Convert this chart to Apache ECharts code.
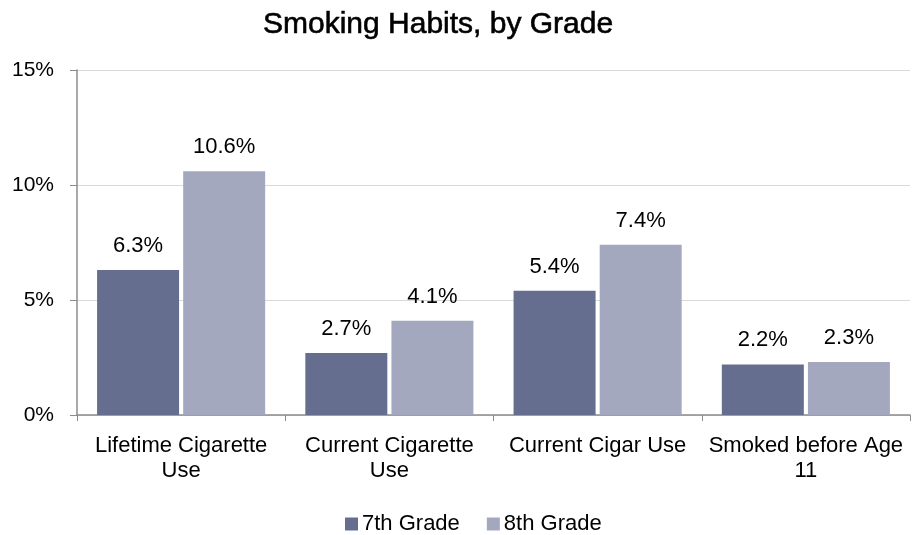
<!DOCTYPE html>
<html>
<head>
<meta charset="utf-8">
<script src="https://cdn.jsdelivr.net/npm/echarts@6/dist/echarts.min.js"></script>
<style>
  html, body { margin: 0; padding: 0; background: #fff; }
  #chart { width: 914px; height: 535px; }
</style>
</head>
<body>
<div id="chart"></div>
<script>
// Survey categories and the share of students in each grade
const categories = ['Lifetime Cigarette\nUse', 'Current Cigarette\nUse', 'Current Cigar Use', 'Smoked before Age\n11'];
const grade7 = [6.3, 2.7, 5.4, 2.2];
const grade8 = [10.6, 4.1, 7.4, 2.3];
const seriesNames = ['7th Grade', '8th Grade'];

const font = '"Liberation Sans", Arial, sans-serif';
const chart = echarts.init(document.getElementById('chart'));

const labelStyle = {
  show: true,
  position: 'top',
  distance: 13,
  color: '#000',
  fontSize: 22,
  fontFamily: font,
  formatter: p => p.value.toFixed(1) + '%'
};

chart.setOption({
  animation: false,
  title: {
    text: 'Smoking Habits, by Grade',
    left: 258,
    top: 5,
    textStyle: {
      fontFamily: font, fontSize: 30, fontWeight: 'normal', color: '#000',
      // a thin outline gives the heading a medium weight
      textBorderColor: '#000', textBorderWidth: 0.6
    }
  },
  legend: {
    top: 508,
    left: 340,
    itemWidth: 13,
    itemHeight: 13,
    itemGap: 27,
    icon: 'rect',
    textStyle: { fontFamily: font, fontSize: 22, color: '#000', padding: [0, 0, 0, -1] },
    data: seriesNames
  },
  grid: { left: 77, right: 4, top: 70, bottom: 120, containLabel: false },
  xAxis: {
    type: 'category',
    data: categories,
    axisLine: { lineStyle: { color: '#8c8c8c', width: 1.5 } },
    axisTick: { show: true, length: 6, lineStyle: { color: '#8c8c8c' } },
    axisLabel: { fontFamily: font, fontSize: 22, color: '#000', margin: 18, lineHeight: 25, interval: 0 }
  },
  yAxis: {
    type: 'value',
    min: 0,
    max: 15,
    interval: 5,
    axisLine: { show: true, lineStyle: { color: '#8c8c8c', width: 1.5 } },
    axisTick: { show: true, length: 7, lineStyle: { color: '#8c8c8c' } },
    axisLabel: { fontFamily: font, fontSize: 21, color: '#000', margin: 23, formatter: v => v + '%' },
    splitLine: { lineStyle: { color: '#d9d9d9' } }
  },
  series: [
    {
      name: seriesNames[0],
      type: 'bar',
      data: grade7,
      barWidth: 82,
      barGap: '5%',
      itemStyle: { color: '#666e8f' },
      label: labelStyle
    },
    {
      name: seriesNames[1],
      type: 'bar',
      data: grade8,
      barWidth: 82,
      itemStyle: { color: '#a3a8bf' },
      label: labelStyle
    }
  ]
});
</script>
</body>
</html>
